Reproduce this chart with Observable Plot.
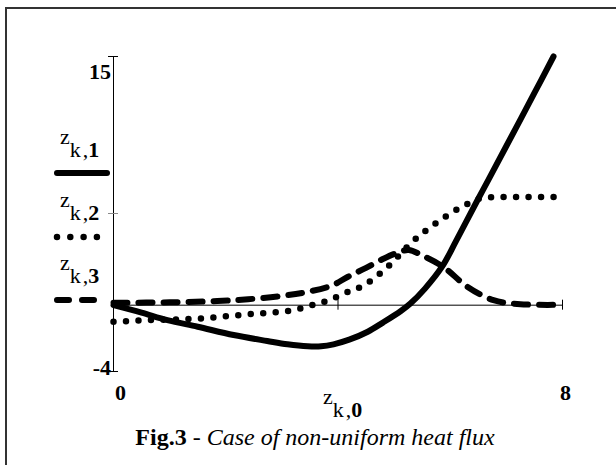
<!DOCTYPE html>
<html><head><meta charset="utf-8">
<script src="https://cdn.jsdelivr.net/npm/d3@7"></script>
<script src="https://cdn.jsdelivr.net/npm/@observablehq/plot@0.6"></script>
<style>
html,body{margin:0;padding:0;background:#fff;}
#wrap{position:relative;width:616px;height:465px;overflow:hidden;background:#fff;}
#frame{position:absolute;left:5px;top:7px;width:700px;height:600px;border-top:2px solid #333;border-left:2px solid #333;}
#wrap svg{position:absolute;left:0;top:0;}
</style></head><body><div id="wrap"><div id="frame"></div></div>
<script>
// Series z_k,1 (solid)
const x1 = [0, 0.5, 0.96, 1.5, 2.14, 2.74, 3.1, 3.46, 3.7, 3.92, 4.2, 4.53, 4.8, 5.12, 5.29, 5.55, 5.86, 6.1, 6.48, 6.67, 7.0, 7.5, 7.84];
const y1 = [0, -0.45, -0.9, -1.3, -1.8, -2.16, -2.36, -2.48, -2.48, -2.36, -2.08, -1.6, -1.05, -0.35, 0.1, 1.0, 2.35, 3.85, 6.3, 7.5, 9.6, 12.8, 15];
// Series z_k,2 (dotted)
const x2 = [0, 0.66, 1.55, 2.39, 3.2, 3.64, 3.81, 4.1, 4.46, 4.88, 5.35, 5.77, 6.24, 6.63, 7.0, 7.5, 7.86];
const y2 = [-1.0, -0.9, -0.8, -0.55, -0.3, 0.1, 0.26, 0.7, 1.2, 2.3, 3.9, 5.0, 6.0, 6.5, 6.53, 6.53, 6.53];
// Series z_k,3 (dashed)
const x3 = [0, 1.0, 1.85, 2.4, 3.0, 3.45, 3.9, 4.17, 4.5, 4.81, 5.05, 5.26, 5.5, 5.88, 6.31, 6.77, 7.25, 7.85];
const y3 = [0.15, 0.17, 0.25, 0.36, 0.56, 0.8, 1.2, 1.7, 2.25, 2.8, 3.15, 3.33, 3.0, 2.3, 1.1, 0.3, 0.06, 0.02];
// Axis limits / ticks
const xLimits = [0, 8];
const yLimits = [-4, 15];
const xTickMarks = [4, 8];
const xTickLabels = ["0", "8"];
const yTickLabels = ["15", "-4"];
const legendNames = ["1", "2", "3"];
const captionBold = "Fig.3";
const captionItalic = "Case of non-uniform heat flux";

const toRows = (xs, ys) => xs.map((x, i) => ({x, y: ys[i]}));
const s1 = toRows(x1, y1), s2 = toRows(x2, y2), s3 = toRows(x3, y3);

const W = 616, H = 465;
const plot = Plot.plot({
  width: W, height: H,
  marginTop: 56, marginRight: 54, marginBottom: 94, marginLeft: 113,
  x: {domain: xLimits, axis: null},
  y: {domain: yLimits, axis: null},
  style: {background: "transparent"},
  marks: [
    Plot.ruleY([0], {x1: xLimits[0], x2: xLimits[1], stroke: "black", strokeWidth: 1}),
    Plot.ruleX([0], {y1: yLimits[0], y2: yLimits[1], stroke: "black", strokeWidth: 1}),
    Plot.ruleX(xTickMarks, {y1: 0, y2: 0, insetTop: -5, insetBottom: -5, stroke: "black", strokeWidth: 1}),
    Plot.ruleY(yLimits, {x1: 0, x2: 0, insetLeft: -5, insetRight: -5, stroke: "black", strokeWidth: 1}),
    Plot.line(s3, {x: "x", y: "y", curve: "catmull-rom", stroke: "black", strokeWidth: 6, strokeDasharray: "14 11", strokeLinecap: "round"}),
    Plot.line(s2, {x: "x", y: "y", curve: "monotone-x", stroke: "black", strokeWidth: 6.5, strokeDasharray: "0 12.5", strokeLinecap: "round"}),
    Plot.line(s1, {x: "x", y: "y", curve: "catmull-rom", stroke: "black", strokeWidth: 6, strokeLinecap: "round"})
  ]
});
document.getElementById("wrap").appendChild(plot);

// Overlay: labels, legend, caption
const svg = d3.create("svg").attr("width", W).attr("height", H)
  .style("font-family", "'Liberation Serif','Times New Roman',serif").style("font-size", "22px");
// y labels
svg.append("text").attr("x", 111).attr("y", 79).attr("text-anchor", "end").attr("font-weight", "bold").text(yTickLabels[0]);
svg.append("text").attr("x", 111).attr("y", 375).attr("text-anchor", "end").attr("font-weight", "bold").text(yTickLabels[1]);
// x labels
svg.append("text").attr("x", 115).attr("y", 400).attr("font-weight", "bold").text(xTickLabels[0]);
svg.append("text").attr("x", 560).attr("y", 400).attr("font-weight", "bold").text(xTickLabels[1]);

function zLabel(x, yz, sub) {
  const t = svg.append("text").attr("x", x).attr("y", yz);
  t.append("tspan").text("z");
  t.append("tspan").attr("dy", 13).text("k");
  t.append("tspan").attr("dx", 2).text(",");
  t.append("tspan").attr("font-weight", "bold").text(sub);
}
zLabel(323, 404, "0");
zLabel(60, 144, legendNames[0]);
zLabel(60, 207, legendNames[1]);
zLabel(60, 270, legendNames[2]);

// legend swatches
svg.append("line").attr("x1", 57).attr("x2", 107).attr("y1", 173).attr("y2", 173)
  .attr("stroke", "black").attr("stroke-width", 6).attr("stroke-linecap", "round");
svg.append("line").attr("x1", 57).attr("x2", 98).attr("y1", 237).attr("y2", 237)
  .attr("stroke", "black").attr("stroke-width", 6.5).attr("stroke-linecap", "round").attr("stroke-dasharray", "0 13.3");
svg.append("line").attr("x1", 57).attr("x2", 94).attr("y1", 300).attr("y2", 300)
  .attr("stroke", "black").attr("stroke-width", 6).attr("stroke-linecap", "round").attr("stroke-dasharray", "12 13");
// small gray marker
svg.append("line").attr("x1", 108).attr("x2", 118).attr("y1", 213.5).attr("y2", 213.5).attr("stroke", "#888").attr("stroke-width", 1);

// caption
const cap = svg.append("text").attr("x", 315).attr("y", 445).attr("text-anchor", "middle").style("font-size", "24px");
cap.append("tspan").attr("font-weight", "bold").text(captionBold);
cap.append("tspan").text(" - ");
cap.append("tspan").attr("font-style", "italic").text(captionItalic);

document.getElementById("wrap").appendChild(svg.node());
</script>
</body></html>
